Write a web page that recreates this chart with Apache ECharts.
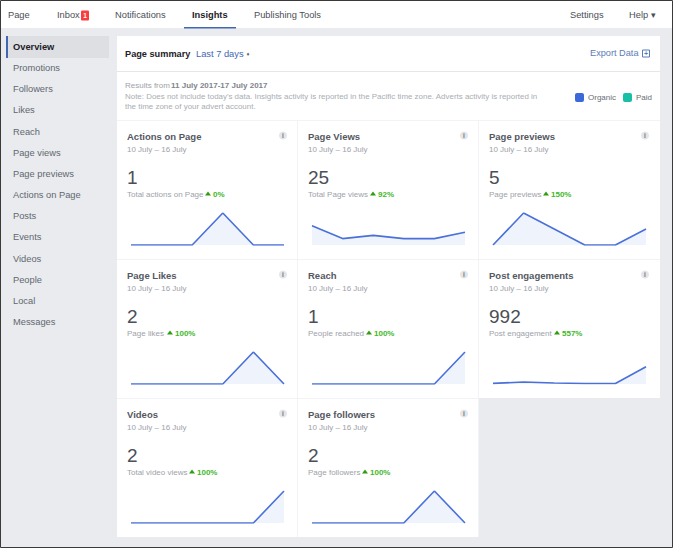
<!DOCTYPE html>
<html>
<head>
<meta charset="utf-8">
<title>Page summary</title>
<style>
html, body { margin: 0; padding: 0; background: #e9ebee; }
#chart { width: 673px; height: 548px; }
</style>
<script src="https://cdn.jsdelivr.net/npm/echarts@6/dist/echarts.min.js"></script>
</head>
<body>
<div id="chart"></div>
<script>
// values
const days = ['10', '11', '12', '13', '14', '15'];
const navLeft = ['Page', 'Inbox', 'Notifications', 'Insights', 'Publishing Tools'];
const navRight = ['Settings', 'Help \u25BE'];
const sideItems = ['Overview', 'Promotions', 'Followers', 'Likes', 'Reach', 'Page views', 'Page previews',
    'Actions on Page', 'Posts', 'Events', 'Videos', 'People', 'Local', 'Messages'];
const cardTitles = ['Actions on Page', 'Page Views', 'Page previews', 'Page Likes', 'Reach', 'Post engagements', 'Videos', 'Page followers'];
const cardTotals = ['1', '25', '5', '2', '1', '992', '2', '2'];
const cardLabels = ['Total actions on Page', 'Total Page views', 'Page previews', 'Page likes', 'People reached', 'Post engagement', 'Total video views', 'Page followers'];
const cardDeltas = ['0%', '92%', '150%', '100%', '100%', '557%', '100%', '100%'];
const actionsValues = [0, 0, 0, 1, 0, 0];
const viewsValues = [6, 2, 3, 2, 2, 4];
const previewsValues = [0, 2, 1, 0, 0, 1];
const likesValues = [0, 0, 0, 0, 1, 0];
const reachValues = [0, 0, 0, 0, 0, 1];
const engagementValues = [20, 60, 30, 15, 15, 530];
const videosValues = [0, 0, 0, 0, 0, 1];
const followersValues = [0, 0, 0, 0, 1, 0];
const allValues = [actionsValues, viewsValues, previewsValues, likesValues, reachValues, engagementValues, videosValues, followersValues];
const axisMax = [1, 10, 2, 1, 1, 980, 1, 1];

// layout
const navX = [8, 57, 115, 192, 254];
const colX = [117, 298, 479];
const rowY = [120, 259, 398];
const deltaX = [208, 373, 546, 170, 369, 557, 192, 365];
const font = '"Liberation Sans", Arial, sans-serif';

function label(x, y, text, size, color, weight, align) {
    return {
        type: 'text', x: x, y: y, silent: true,
        style: {
            text: text, fill: color, font: (weight || 'normal') + ' ' + size + 'px ' + font,
            align: align || 'left', verticalAlign: 'middle'
        }
    };
}
function box(x, y, w, h, color, r) {
    return { type: 'rect', silent: true, shape: { x: x, y: y, width: w, height: h, r: r || 0 }, style: { fill: color } };
}

const g = [];
// page frame and top bar
g.push(box(0, 0, 673, 28, '#ffffff'));
navLeft.forEach(function(t, i) {
    g.push(label(navX[i], 15, t, 9.3, i === 3 ? '#1d2129' : '#4b4f56', i === 3 ? 'bold' : 'normal'));
});
g.push(box(81, 10.5, 8, 10, '#fa3e3e', 1));
g.push(label(85, 15.5, '1', 6.5, '#ffffff', 'bold', 'center'));
g.push(box(184, 27, 52, 1.5, '#4267b2'));
g.push(label(570, 15, navRight[0], 9.3, '#4b4f56'));
g.push(label(629, 15, navRight[1], 9.3, '#4b4f56'));

// side menu
g.push(box(6, 36, 103, 22, '#dddfe2'));
g.push(box(6, 36, 2, 22, '#4267b2'));
sideItems.forEach(function(t, i) {
    g.push(label(13, 47 + i * 21.15, t, 9.3, i === 0 ? '#1d2129' : '#616770', i === 0 ? 'bold' : 'normal'));
});

// summary panel
g.push(box(117, 36, 543, 84, '#ffffff'));
g.push(box(117, 71, 543, 1, '#e5e6e9'));
g.push(label(125, 53.5, 'Page summary', 9.2, '#1d2129', 'bold'));
g.push(label(196, 53.5, 'Last 7 days', 9.3, '#4267b2'));
g.push(label(248, 54, '\u2666', 6, '#6f6f6f', 'normal', 'center'));
g.push(label(590, 53, 'Export Data', 9.2, '#5b7db8'));
g.push({ type: 'rect', silent: true, shape: { x: 642.5, y: 50, width: 7, height: 7 }, style: { fill: 'none', stroke: '#5b7db8', lineWidth: 1 } });
g.push(label(646, 53.5, '+', 7, '#5b7db8', 'bold', 'center'));
g.push(label(125, 85, 'Results from ', 8, '#9ea2a9'));
g.push(label(171, 85, '11 July 2017-17 July 2017', 8, '#80848b', 'bold'));
g.push(label(125, 96, "Note: Does not include today's data. Insights activity is reported in the Pacific time zone. Adverts activity is reported in", 7.95, '#a9adb3'));
g.push(label(125, 106.5, 'the time zone of your advert account.', 7.95, '#a9adb3'));
g.push(box(575, 93, 9, 9, '#3b69d8', 2));
g.push(label(588, 97.5, 'Organic', 8, '#6a6e75'));
g.push(box(623, 93, 9, 9, '#16bfa5', 2));
g.push(label(636, 97.5, 'Paid', 8, '#6a6e75'));

const grids = [], xAxes = [], yAxes = [], series = [];
cardTitles.forEach(function(title, i) {
    const x0 = colX[i % 3], y0 = rowY[Math.floor(i / 3)];
    const w = i % 3 === 2 ? 181 : 180.5;
    g.push(box(x0, y0, w, 139, '#ffffff'));
    g.push(box(x0, y0, w, 1, '#f2f3f5'));
    if (i % 3 !== 2) g.push(box(x0 + 180, y0, 1, 139, '#f2f3f5'));
    g.push(label(x0 + 10, y0 + 16.3, title, 9.5, '#55585f', 'bold'));
    g.push(label(x0 + 10, y0 + 29, '10 July \u2013 16 July', 8, '#9ea2a9'));
    g.push(label(x0 + 10, y0 + 57, cardTotals[i], 19, '#4b4f56'));
    g.push(label(x0 + 10, y0 + 74, cardLabels[i], 8, '#9ea2a9'));
    g.push({ type: 'circle', silent: true, shape: { cx: x0 + 166, cy: y0 + 15.5, r: 4 }, style: { fill: '#e4e5e8' } });
    g.push(label(x0 + 166, y0 + 15.5, 'i', 6.5, '#70747b', 'bold', 'center'));
    const dx = deltaX[i];
    g.push({ type: 'polygon', silent: true, shape: { points: [[dx - 3, y0 + 75.5], [dx + 3, y0 + 75.5], [dx, y0 + 71.5]] }, style: { fill: '#2f9e12' } });
    g.push(label(dx + 5, y0 + 74, cardDeltas[i], 8, '#42b72a', 'bold'));

    grids.push({ left: x0 + 14, width: 153, top: y0 + 93, height: 32 });
    xAxes.push({ type: 'category', gridIndex: i, data: days, boundaryGap: false, show: false });
    yAxes.push({ type: 'value', gridIndex: i, min: 0, max: axisMax[i], show: false });
    series.push({
        type: 'line', xAxisIndex: i, yAxisIndex: i, data: allValues[i],
        symbol: 'none', silent: true, animation: false, z: 5,
        lineStyle: { color: '#4a70d9', width: 1.6 },
        areaStyle: { color: '#eef3fc', opacity: 1 }
    });
});

// dark frame of the screenshot
g.push({ type: 'rect', silent: true, z: 100, shape: { x: 0.5, y: 0.5, width: 672, height: 547 }, style: { fill: 'none', stroke: '#3a3a3a', lineWidth: 1 } });

const chart = echarts.init(document.getElementById('chart'), null, { renderer: 'svg' });
chart.setOption({
    backgroundColor: '#e9ebee',
    animation: false,
    tooltip: { show: false },
    graphic: { elements: g.map(function(el) { el.z = el.z || 1; return el; }) },
    grid: grids,
    xAxis: xAxes,
    yAxis: yAxes,
    series: series
});
</script>
</body>
</html>
